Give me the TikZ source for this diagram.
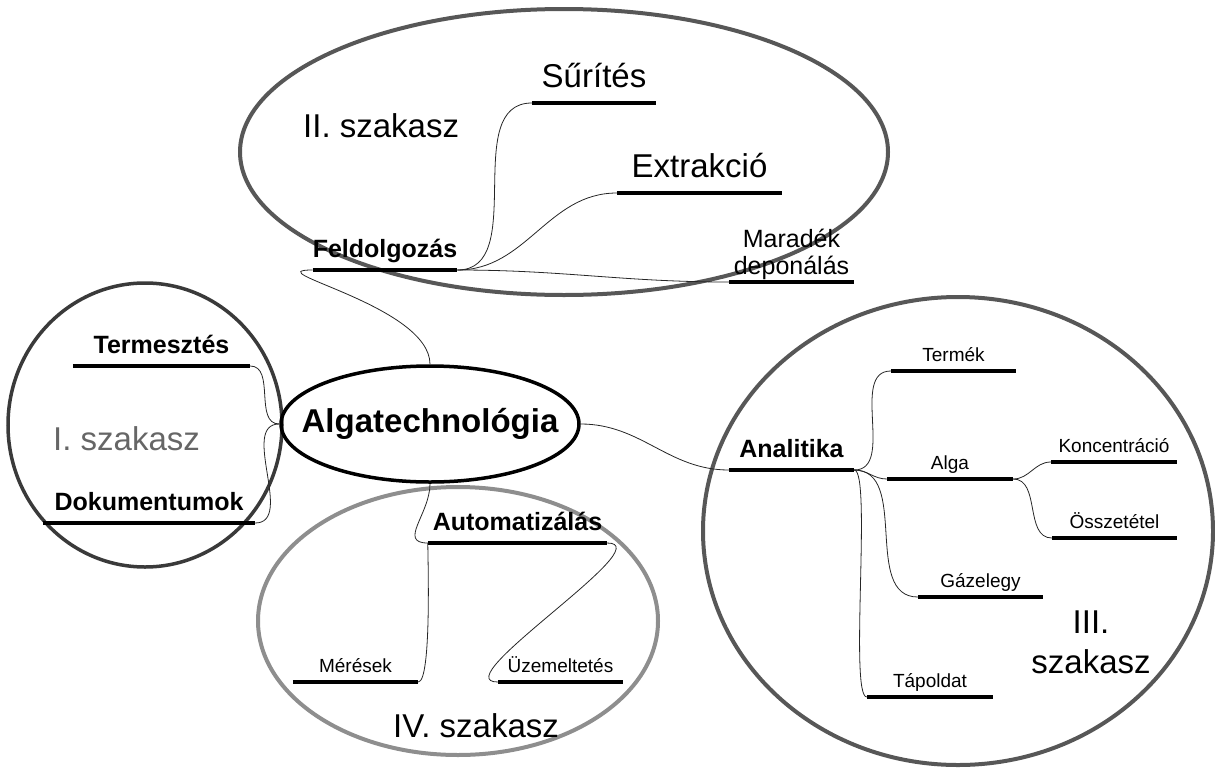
\documentclass[tikz,border=0pt]{standalone}
\usepackage{fontspec}
\setmainfont{Liberation Sans}
\usetikzlibrary{shapes.geometric}

\definecolor{ringdark}{HTML}{3A3A3A}
\definecolor{ringmid}{HTML}{575757}
\definecolor{ringlight}{HTML}{8E8E8E}
\definecolor{stagegray}{HTML}{666666}

\tikzset{
  topic/.style={inner xsep=0pt, inner ysep=0pt, anchor=south, minimum width=#1},
  topic/.default=125pt,
  boldtxt/.style={font=\fontsize{25}{28}\selectfont\bfseries, text depth=12pt},
  midtxt/.style={font=\fontsize{25}{27}\selectfont, text depth=12pt},
  bigtxt/.style={font=\fontsize{33}{38}\selectfont, text depth=15pt},
  smalltxt/.style={font=\fontsize{19}{22}\selectfont, text depth=9pt},
  stagetxt/.style={font=\fontsize{33}{40}\selectfont, inner sep=0pt},
  bar/.style={line width=4pt},
  link/.style={line width=0.8pt, black!85},
  ring/.style={line width=4pt}
}

\begin{document}
\begin{tikzpicture}[x=1pt, y=-1pt]
    \useasboundingbox (0,0) rectangle (1215,771);

    % stages
    \draw[ring, ringmid] (564,152) ellipse [x radius=324, y radius=143];
    \draw[ring, ringdark, line width=3.5pt] (145,425) ellipse [x radius=137, y radius=142];
    \draw[ring, ringmid] (958,531) ellipse [x radius=255, y radius=234];
    \draw[ring, ringlight] (458,621) ellipse [x radius=200, y radius=134];

    \node[stagetxt, anchor=base west] (stage2) at (303,137) {II. szakasz};
    \node[stagetxt, anchor=base west, stagegray] (stage1) at (53,450) {I. szakasz};
    \node[stagetxt, align=center] (stage3) at (1091,642) {III.\\szakasz};
    \node[stagetxt, anchor=base west] (stage4) at (393,737) {IV. szakasz};

    % centre
    \node[ellipse, draw, line width=3.5pt, minimum width=298pt, minimum height=116pt,
          inner sep=0pt, font=\fontsize{33}{38}\selectfont\bfseries] (cent) at (430,424)
          {\makebox[0pt]{Algatechnológia}};

    % topics
    \node[topic=177pt, boldtxt] (term) at (161.5,366) {Termesztés};
    \node[topic=212pt, boldtxt] (doku) at (149,523) {Dokumentumok};
    \node[topic=144pt, boldtxt] (feld) at (385,270) {Feldolgozás};
    \node[topic=124pt, bigtxt] (suri) at (594,103) {Sűrítés};
    \node[topic=165pt, bigtxt] (extr) at (699.5,193) {Extrakció};
    \node[topic, midtxt, align=center, text depth=7pt] (mara) at (791.5,282) {Maradék\\deponálás};
    \node[topic, boldtxt] (anal) at (791.5,470) {Analitika};
    \node[topic, smalltxt] (termek) at (953.5,371) {Termék};
    \node[topic=126pt, smalltxt] (alga) at (950,479) {Alga};
    \node[topic=126pt, smalltxt] (konc) at (1114,462) {Koncentráció};
    \node[topic, smalltxt] (ossz) at (1114.5,538) {Összetétel};
    \node[topic, smalltxt] (gaz) at (980.5,597) {Gázelegy};
    \node[topic=126pt, smalltxt] (tap) at (930,697) {Tápoldat};
    \node[topic=179pt, boldtxt] (auto) at (517.5,543) {Automatizálás};
    \node[topic, smalltxt] (meres) at (355.5,682) {Mérések};
    \node[topic, smalltxt] (uzem) at (560.5,682) {Üzemeltetés};

    \foreach \n in {term,doku,feld,suri,extr,mara,anal,termek,alga,konc,ossz,gaz,tap,auto,meres,uzem}
        \draw[bar] (\n.south west) -- (\n.south east);

    % connectors
    \draw[link] (term.south east) to[out=0,in=180] (cent.west);
    \draw[link] (doku.south east) to[out=0,in=180] (cent.west);
    \draw[link] (feld.south west) to[out=180,in=90] (cent.north);
    \foreach \n in {suri,extr,mara}
        \draw[link] (feld.south east) to[out=0,in=180] (\n.south west);
    \draw[link] (cent.east) to[out=0,in=180] (anal.south west);
    \foreach \n in {termek,alga,gaz}
        \draw[link] (anal.south east) to[out=0,in=180] (\n.south west);
    \draw[link] (anal.south east) to[out=0,in=180,looseness=0.2] (tap.south west);
    \foreach \n in {konc,ossz}
        \draw[link] (alga.south east) to[out=0,in=180] (\n.south west);
    \draw[link] (cent.south) to[out=-90,in=180,looseness=1.3] (auto.south west);
    \draw[link] (auto.south west) to[out=-90,in=0,looseness=0.25] (meres.south east);
    \draw[link] (auto.south east) to[out=0,in=180,looseness=0.8] (uzem.south west);
\end{tikzpicture}
\end{document}
